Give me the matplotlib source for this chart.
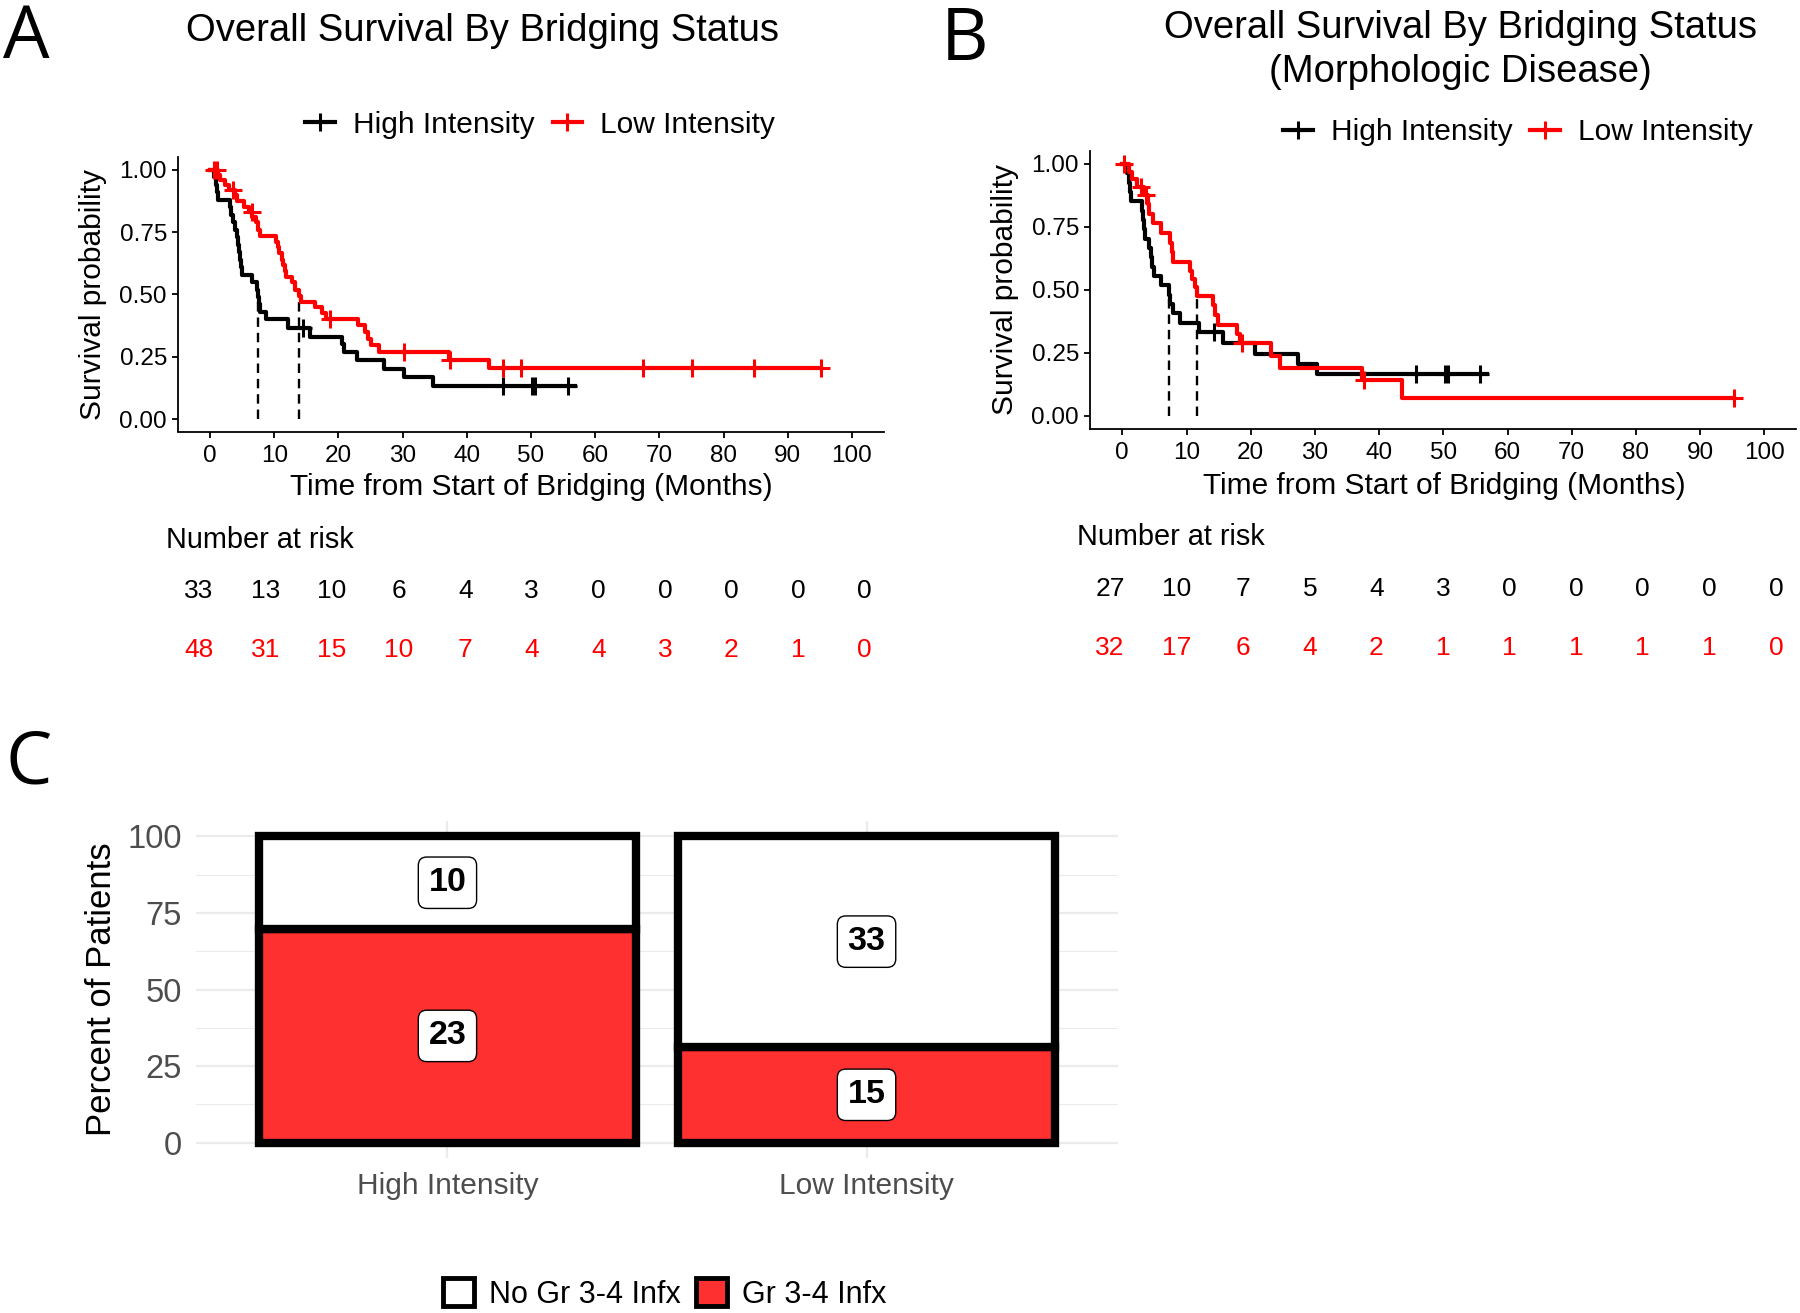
import matplotlib
matplotlib.use("Agg")
import matplotlib.pyplot as plt
from matplotlib.lines import Line2D
from matplotlib.patches import Patch
import numpy as np

plt.rcParams['font.family'] = ['Liberation Sans', 'DejaVu Sans']

W, H = 1800, 1313

# ---------------- panel A: overall survival, all patients ----------------
# step times (months) and survival level after each step
a_hi_t = [0.6, 0.9, 1.1, 1.3, 3.1, 3.3, 3.6, 3.9, 4.25, 4.4, 4.5, 4.7, 4.8, 4.9,
          6.5, 7.3, 7.4, 7.6, 7.8, 8.7, 12.2, 15.5, 20.6, 20.9, 22.9, 27.1, 30.2, 34.8]
a_hi_s = [0.97, 0.94, 0.91, 0.88, 0.85, 0.82, 0.79, 0.76, 0.73, 0.70, 0.67, 0.64, 0.61, 0.58,
          0.55, 0.52, 0.49, 0.46, 0.43, 0.40, 0.364, 0.33, 0.30, 0.27, 0.237, 0.20, 0.167, 0.133]
a_hi_end = 56.8
a_hi_cens = [14.4, 45.7, 50.1, 50.7, 55.7]

a_lo_t = [1.3, 1.5, 2.3, 2.9, 3.9, 4.2, 5.3, 6.0, 6.6, 7.1, 7.4, 7.7, 10.3, 10.6, 10.8,
          11.2, 11.4, 11.6, 11.8, 12.7, 13.2, 13.8, 14.2, 16.4, 17.5, 18.0, 23.1, 24.2,
          24.6, 25.0, 26.3, 37.2, 43.4]
a_lo_s = [0.98, 0.96, 0.94, 0.92, 0.90, 0.875, 0.85, 0.83, 0.81, 0.79, 0.76, 0.735, 0.71,
          0.69, 0.665, 0.64, 0.62, 0.595, 0.57, 0.55, 0.52, 0.495, 0.47, 0.45, 0.425, 0.40,
          0.377, 0.35, 0.323, 0.296, 0.27, 0.237, 0.203]
a_lo_end = 95.2
a_lo_cens = [0.6, 1.1, 3.6, 6.5, 18.7, 30.2, 37.4, 45.7, 48.4, 67.5, 75.1, 84.7, 95.2]

# ---------------- panel B: morphologic disease ----------------
b_hi_t = [0.7, 1.0, 1.2, 1.3, 3.0, 3.2, 3.4, 3.5, 4.2, 4.4, 4.6, 5.0, 6.1, 7.3, 7.4, 7.9,
          9.0, 12.0, 15.7, 20.7, 27.3, 30.3]
b_hi_s = [0.963, 0.926, 0.889, 0.852, 0.815, 0.778, 0.741, 0.704, 0.667, 0.630, 0.593,
          0.556, 0.519, 0.481, 0.444, 0.407, 0.370, 0.333, 0.289, 0.247, 0.206, 0.165]
b_hi_end = 56.8
b_hi_cens = [14.3, 45.8, 50.2, 50.8, 55.7]

b_lo_t = [1.0, 1.5, 2.3, 3.4, 4.0, 4.1, 4.8, 6.1, 7.4, 7.8, 7.95, 10.6, 10.9, 11.3, 11.6,
          14.2, 14.4, 14.9, 17.8, 18.4, 23.1, 24.6, 37.3, 43.5]
b_lo_s = [0.97, 0.94, 0.91, 0.875, 0.84, 0.80, 0.765, 0.725, 0.685, 0.65, 0.61, 0.575,
          0.545, 0.51, 0.475, 0.44, 0.40, 0.36, 0.325, 0.29, 0.24, 0.19, 0.143, 0.071]
b_lo_end = 95.3
b_lo_cens = [0.3, 2.9, 3.7, 18.6, 37.6, 95.3]

# number at risk
risk_times = [0, 10, 20, 30, 40, 50, 60, 70, 80, 90, 100]
a_risk_hi = [33, 13, 10, 6, 4, 3, 0, 0, 0, 0, 0]
a_risk_lo = [48, 31, 15, 10, 7, 4, 4, 3, 2, 1, 0]
b_risk_hi = [27, 10, 7, 5, 4, 3, 0, 0, 0, 0, 0]
b_risk_lo = [32, 17, 6, 4, 2, 1, 1, 1, 1, 1, 0]

# ---------------- panel C: grade 3-4 infections ----------------
groups = ['High Intensity', 'Low Intensity']
infx = [23, 15]
no_infx = [10, 33]

fig = plt.figure(figsize=(W / 100, H / 100), dpi=100)


def px_axes(left, top, right, bottom):
    return fig.add_axes([left / W, 1 - bottom / H, (right - left) / W, (bottom - top) / H])


def km_panel(ax, curves):
    for t, s, end, cens, col in curves:
        tt = [0] + t + [end]
        ss = [1.0] + s + [s[-1]]
        ax.step(tt, ss, where='post', color=col, lw=3.0, zorder=3)
        idx = np.searchsorted(tt, cens, side='right') - 1
        ax.plot(cens, np.array(ss)[idx], ls='none', marker='+', ms=13, mew=2.2,
                color=col, zorder=4)
        # median line
        med = t[next(i for i, v in enumerate(s) if v <= 0.5)]
        ax.plot([med, med], [0, 0.5], color='black', lw=1.7, ls=(0, (4, 2.5)), zorder=2)
    ax.set_xlim(-5, 105)
    ax.set_ylim(-0.05, 1.05)
    ax.set_xticks(range(0, 101, 10))
    ax.set_yticks([0, 0.25, 0.5, 0.75, 1.0])
    ax.set_yticklabels(['0.00', '0.25', '0.50', '0.75', '1.00'])
    for sp in ['top', 'right']:
        ax.spines[sp].set_visible(False)
    for sp in ['left', 'bottom']:
        ax.spines[sp].set_linewidth(1.3)
    ax.tick_params(length=4, width=1.3, labelsize=17.5, colors='black')
    ax.tick_params(axis='x', pad=6)
    ax.tick_params(axis='y', pad=4)
    ax.set_xlabel('Time from Start of Bridging (Months)', fontsize=21.5)
    ax.set_ylabel('Survival probability', fontsize=21.5)
    ax.xaxis.label.set_va('center')
    ax.yaxis.label.set_va('center')
    handles = [Line2D([0], [0], color='black', lw=3.0, marker='+', ms=13, mew=2.2),
               Line2D([0], [0], color='red', lw=3.0, marker='+', ms=13, mew=2.2)]
    return handles


def risk_table(ax, hi, lo):
    for x, n in zip(risk_times, hi):
        ax.text(x, 1, str(n), ha='center', va='center', fontsize=19, color='black')
    for x, n in zip(risk_times, lo):
        ax.text(x, 0, str(n), ha='center', va='center', fontsize=19, color='red')
    ax.set_ylim(-0.5, 1.5)
    ax.axis('off')


# panel A
axa = px_axes(178, 157.5, 884, 431.5)
h = km_panel(axa, [(a_hi_t, a_hi_s, a_hi_end, a_hi_cens, 'black'),
                   (a_lo_t, a_lo_s, a_lo_end, a_lo_cens, 'red')])
axa.xaxis.set_label_coords(0.501, -0.203)
axa.yaxis.set_label_coords(-0.121, 0.5)
axa.legend(h, ['High Intensity', 'Low Intensity'], loc='center', bbox_to_anchor=(0.513, 1.119),
           ncol=2, frameon=False, fontsize=21.5, handlelength=1.0, handletextpad=0.6,
           columnspacing=0.6)
fig.text(482 / W, 1 - 31 / H, 'Overall Survival By Bridging Status', ha='center', va='center',
         fontsize=27.5)

rka = px_axes(165.7, 561, 897.8, 680)
rka.set_xlim(-5, 105)
risk_table(rka, a_risk_hi, a_risk_lo)
rka.text(0, (680 - 540) / 119, 'Number at risk', transform=rka.transAxes, ha='left',
         va='center', fontsize=20.8)

# panel B
axb = px_axes(1090.2, 151.4, 1796.4, 428.6)
h = km_panel(axb, [(b_hi_t, b_hi_s, b_hi_end, b_hi_cens, 'black'),
                   (b_lo_t, b_lo_s, b_lo_end, b_lo_cens, 'red')])
axb.xaxis.set_label_coords(0.501, -0.207)
axb.yaxis.set_label_coords(-0.120, 0.5)
axb.legend(h, ['High Intensity', 'Low Intensity'], loc='center', bbox_to_anchor=(0.606, 1.07),
           ncol=2, frameon=False, fontsize=21.5, handlelength=1.0, handletextpad=0.6,
           columnspacing=0.6)
fig.text(1460 / W, 1 - 50 / H, 'Overall Survival By Bridging Status\n(Morphologic Disease)',
         ha='center', va='center', fontsize=27.5, linespacing=1.3)

rkb = px_axes(1076.7, 559, 1800, 678)
rkb.set_xlim(-5, 100 + 24 / 6.655)
risk_table(rkb, b_risk_hi, b_risk_lo)
rkb.text(0, (678 - 537) / 119, 'Number at risk', transform=rkb.transAxes, ha='left',
         va='center', fontsize=20.8)

# panel C
axc = px_axes(196, 821, 1118, 1158)
tot = np.array(infx) + np.array(no_infx)
p_inf = 100 * np.array(infx) / tot
p_no = 100 * np.array(no_infx) / tot
xpos = np.arange(1, len(groups) + 1)
axc.bar(xpos, p_inf, width=0.9, color='#FF3030', edgecolor='black', lw=6, zorder=3)
axc.bar(xpos, p_no, bottom=p_inf, width=0.9, color='white', edgecolor='black', lw=6, zorder=3)
lab_box = dict(boxstyle='round,pad=0.3,rounding_size=0.25', fc='white', ec='black', lw=1)
for xi, b, hgt, n in zip(xpos, np.zeros(len(xpos)), p_inf, infx):
    axc.text(xi, b + hgt / 2, str(n), ha='center', va='center', fontsize=24.5,
             fontweight='bold', bbox=lab_box, zorder=5)
for xi, b, hgt, n in zip(xpos, p_inf, p_no, no_infx):
    axc.text(xi, b + hgt / 2, str(n), ha='center', va='center', fontsize=24.5,
             fontweight='bold', bbox=lab_box, zorder=5)
axc.set_xlim(0.4, 2.6)
axc.set_ylim(-5, 105)
axc.set_xticks(xpos)
axc.set_xticklabels(groups)
axc.set_yticks([0, 25, 50, 75, 100])
axc.set_yticks([12.5, 37.5, 62.5, 87.5], minor=True)
axc.grid(which='major', color='#EBEBEB', lw=1.6, zorder=0)
axc.grid(which='minor', axis='y', color='#EBEBEB', lw=0.8, zorder=0)
for sp in axc.spines.values():
    sp.set_visible(False)
axc.tick_params(which='both', length=0, colors='#4D4D4D')
axc.tick_params(axis='y', labelsize=23.5, pad=10)
axc.tick_params(axis='x', labelsize=21.5, pad=10)
axc.set_ylabel('Percent of Patients', fontsize=25)
axc.yaxis.set_label_coords(-0.103, 0.5)
axc.yaxis.label.set_va('center')
leg_h = [Patch(fc='white', ec='black', lw=3.5), Patch(fc='#FF3030', ec='black', lw=3.5)]
fig.legend(leg_h, ['No Gr 3-4 Infx', 'Gr 3-4 Infx'], loc='center',
           bbox_to_anchor=(665 / W, 1 - 1294 / H), ncol=2, frameon=False, fontsize=22,
           handlelength=1.0, handleheight=1.0, handletextpad=0.5, columnspacing=0.5)

# panel letters
for x, y, s in [(3, 58, 'A'), (941, 60, 'B'), (6, 784, 'C')]:
    fig.text(x / W, 1 - y / H, s, ha='left', va='baseline', fontsize=53,
             family=['Open Sans', 'DejaVu Sans'])

fig.savefig('out.png', dpi=100)
